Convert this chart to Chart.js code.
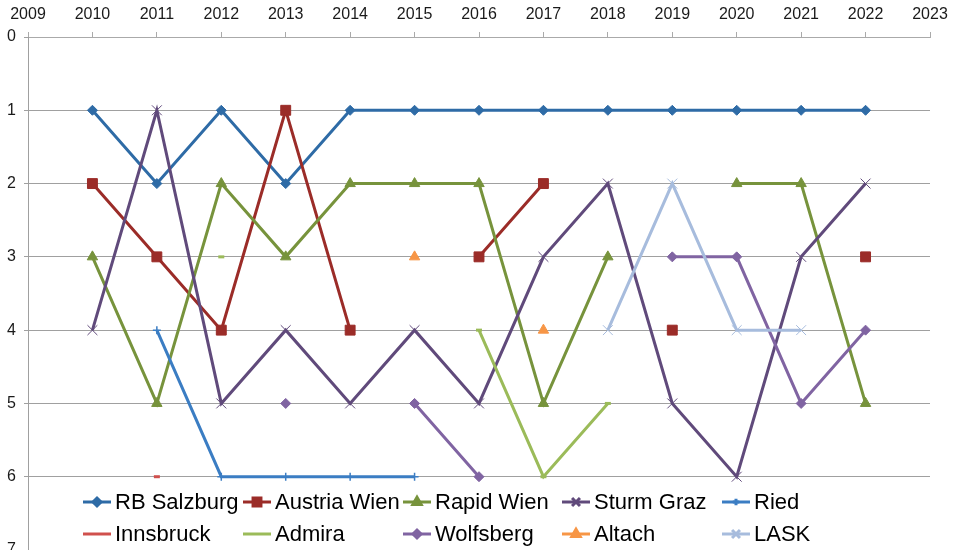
<!DOCTYPE html>
<html>
<head>
<meta charset="utf-8">
<script src="https://cdn.jsdelivr.net/npm/chart.js@4"></script>
<style>
	html, body { margin: 0; padding: 0; background: #fff; }
	#wrap { width: 956px; height: 550px; position: relative; }
</style>
</head>
<body>
<div id="wrap"><canvas id="chart" width="956" height="550"></canvas></div>
<script>
// seasons (x) and league position (y) per club, null = not in the league
var years = [2010, 2011, 2012, 2013, 2014, 2015, 2016, 2017, 2018, 2019, 2020, 2021, 2022]
var rbSalzburg = [1, 2, 1, 2, 1, 1, 1, 1, 1, 1, 1, 1, 1]
var austriaWien = [2, 3, 4, 1, 4, null, 3, 2, null, 4, null, null, 3]
var rapidWien = [3, 5, 2, 3, 2, 2, 2, 5, 3, null, 2, 2, 5]
var sturmGraz = [4, 1, 5, 4, 5, 4, 5, 3, 2, 5, 6, 3, 2]
var ried = [null, 4, 6, 6, 6, 6, null, null, null, null, null, null, null]
var innsbruck = [null, 6, null, null, null, null, null, null, null, null, null, null, null]
var admira = [null, null, 3, null, null, null, 4, 6, 5, null, null, null, null]
var wolfsberg = [null, null, null, 5, null, 5, 6, null, null, 3, 3, 5, 4]
var altach = [null, null, null, null, null, 3, null, 4, null, null, null, null, null]
var lask = [null, null, null, null, null, null, null, null, 4, 2, 4, 4, null]

var xMin = 2009
var xMax = 2023
var yTicks = [0, 1, 2, 3, 4, 5, 6, 7]

var FONT = '"Liberation Sans", Arial, sans-serif'

var series = [
	{ label: 'RB Salzburg', data: rbSalzburg, color: '#2E6BA6', style: 'rectRot', radius: 5, bw: 1 },
	{ label: 'Austria Wien', data: austriaWien, color: '#9B2C28', style: 'rect', radius: 7, bw: 1 },
	{ label: 'Rapid Wien', data: rapidWien, color: '#77933C', style: 'triangle', radius: 6, bw: 1 },
	{ label: 'Sturm Graz', data: sturmGraz, color: '#604A7B', style: 'crossRot', radius: 7, bw: 1 },
	{ label: 'Ried', data: ried, color: '#3B7DC3', style: 'cross', radius: 4, bw: 1.5 },
	{ label: 'Innsbruck', data: innsbruck, color: '#D0504D', style: 'line', radius: 3, bw: 3 },
	{ label: 'Admira', data: admira, color: '#9BBB59', style: 'line', radius: 3, bw: 3 },
	{ label: 'Wolfsberg', data: wolfsberg, color: '#8064A2', style: 'rectRot', radius: 5, bw: 1 },
	{ label: 'Altach', data: altach, color: '#F79646', style: 'triangle', radius: 6, bw: 1 },
	{ label: 'LASK', data: lask, color: '#A7BCDD', style: 'crossRot', radius: 7, bw: 1 }
]

var datasets = series.map(function(s, i) {
	return {
		label: s.label,
		data: years.map(function(yr, j) { return { x: yr, y: s.data[j] } }),
		borderColor: s.color,
		backgroundColor: s.color,
		borderWidth: 3,
		pointStyle: s.style,
		pointRadius: s.radius,
		pointHoverRadius: s.radius,
		pointBorderWidth: s.bw,
		pointBackgroundColor: s.color,
		pointBorderColor: s.color,
		tension: 0,
		spanGaps: false,
		clip: false,
		order: series.length - i
	}
})

var noPadding = function() { return { left: 0, top: 0, right: 0, bottom: 0 } }

// legend drawn over the lower part of the plot, in a 5 x 2 grid like the original
var legendPlugin = {
	id: 'gridLegend',
	afterDraw: function(chart) {
		var ctx = chart.ctx
		var colX = [83, 243, 403, 562, 722]
		var rowY = [502, 534]
		ctx.save()
		series.forEach(function(s, i) {
			var x = colX[i % 5]
			var y = rowY[Math.floor(i / 5)]
			ctx.strokeStyle = s.color
			ctx.lineWidth = 3
			ctx.beginPath()
			ctx.moveTo(x, y)
			ctx.lineTo(x + 28, y)
			ctx.stroke()
			if (s.style !== 'line') {
				ctx.fillStyle = s.color
				ctx.strokeStyle = s.color
				Chart.helpers.drawPoint(ctx, {
					pointStyle: s.style,
					radius: s.radius * 0.8,
					rotation: 0,
					borderWidth: s.bw
				}, x + 14, y)
			}
			ctx.fillStyle = '#000'
			ctx.font = '22px ' + FONT
			ctx.textBaseline = 'middle'
			ctx.textAlign = 'left'
			ctx.fillText(s.label, x + 32, y + 1)
		})
		ctx.restore()
	}
}

new Chart(document.getElementById('chart'), {
	type: 'line',
	data: { datasets: datasets },
	plugins: [legendPlugin],
	options: {
		responsive: false,
		animation: false,
		events: [],
		layout: { autoPadding: false, padding: { left: 0, right: 26, top: 0, bottom: 0 } },
		plugins: {
			legend: { display: false },
			tooltip: { enabled: false }
		},
		scales: {
			x: {
				type: 'linear',
				position: 'top',
				min: xMin,
				max: xMax,
				afterFit: function(scale) {
					scale.height = 37
					scale.paddingLeft = 0
					scale.paddingRight = 0
					scale.getPadding = noPadding
				},
				ticks: {
					stepSize: 1,
					padding: 8,
					color: '#1a1a1a',
					font: { size: 16, family: FONT },
					maxRotation: 0,
					callback: function(v) { return String(v) }
				},
				grid: {
					drawOnChartArea: false,
					drawTicks: true,
					tickLength: 5,
					color: '#aaaaaa'
				},
				border: { display: true, color: '#aaaaaa', width: 1 }
			},
			y: {
				reverse: true,
				min: yTicks[0],
				max: yTicks[yTicks.length - 1],
				afterFit: function(scale) {
					scale.width = 28
					scale.paddingTop = 0
					scale.paddingBottom = 0
					scale.getPadding = noPadding
				},
				ticks: {
					stepSize: 1,
					padding: 8,
					color: '#1a1a1a',
					font: { size: 16, family: FONT }
				},
				grid: {
					color: '#a0a0a0',
					tickLength: 4
				},
				border: { display: true, color: '#a0a0a0', width: 1 }
			}
		}
	}
})
</script>
</body>
</html>
